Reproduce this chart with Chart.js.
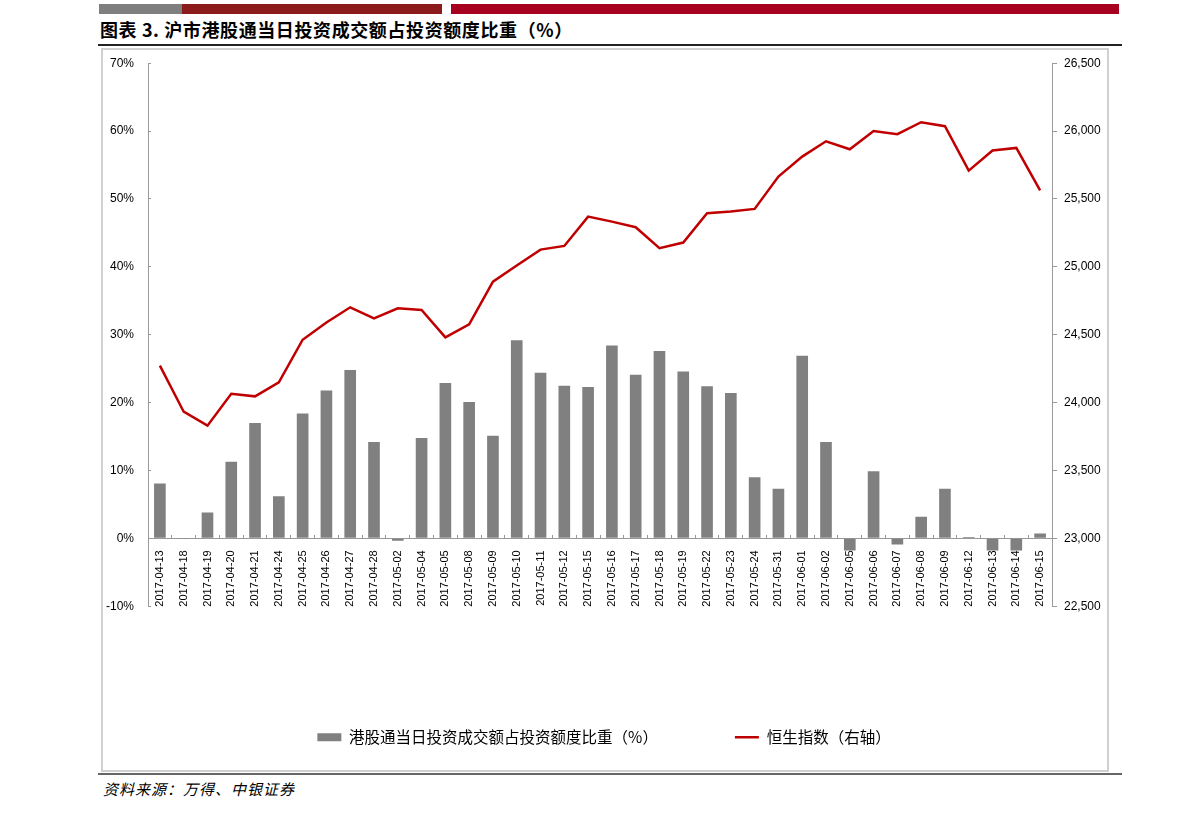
<!DOCTYPE html>
<html>
<head>
<meta charset="utf-8">
<script src="https://cdn.jsdelivr.net/npm/chart.js@4.4.1/dist/chart.umd.min.js"></script>
<style>
  body { margin: 0; background: #fff; width: 1191px; height: 817px; position: relative; overflow: hidden; font-family: "Liberation Sans", Arial, sans-serif; }
  .bar { position: absolute; top: 4px; height: 10px; }
  .title { position: absolute; left: 100px; top: 18px; font: bold 18px "Noto Sans CJK SC", sans-serif; letter-spacing: 0.6px; color: #000; line-height: 22px; white-space: nowrap; }
  .rule { position: absolute; left: 98px; width: 1024px; }
  .frame { position: absolute; left: 101px; top: 48px; width: 1004px; height: 720px; border: 2px solid #d0d0d0; }
  .wrap { position: absolute; left: 102px; top: 39px; width: 1004px; height: 730px; }
  .source { position: absolute; left: 103px; top: 779px; font: italic 15px "Noto Sans CJK SC", sans-serif; letter-spacing: 1px; color: #000; line-height: 20px; }
</style>
</head>
<body>
<div class="bar" style="left:99px;width:83px;background:#7f7f7f"></div>
<div class="bar" style="left:182px;width:260px;background:#8c1c1c"></div>
<div class="bar" style="left:451px;width:668px;background:#a8001f"></div>
<div class="title">图表 3. 沪市港股通当日投资成交额占投资额度比重（%）</div>
<div class="rule" style="top:44px;height:2px;background:#222"></div>
<div class="frame"></div>
<div class="wrap"><canvas id="hkChart"></canvas></div>
<div class="rule" style="top:773px;height:2px;background:#666"></div>
<div class="source">资料来源：万得、中银证券</div>

<script>
const dates = [
  '2017-04-13', '2017-04-18', '2017-04-19', '2017-04-20', '2017-04-21', '2017-04-24',
  '2017-04-25', '2017-04-26', '2017-04-27', '2017-04-28', '2017-05-02', '2017-05-04',
  '2017-05-05', '2017-05-08', '2017-05-09', '2017-05-10', '2017-05-11', '2017-05-12',
  '2017-05-15', '2017-05-16', '2017-05-17', '2017-05-18', '2017-05-19', '2017-05-22',
  '2017-05-23', '2017-05-24', '2017-05-31', '2017-06-01', '2017-06-02', '2017-06-05',
  '2017-06-06', '2017-06-07', '2017-06-08', '2017-06-09', '2017-06-12', '2017-06-13',
  '2017-06-14', '2017-06-15'
];

// 港股通当日投资成交额占投资额度比重 (%)
const shareValues = [
  8.1, -0.1, 3.8, 11.3, 17.0, 6.2, 18.4, 21.8, 24.8, 14.2, -0.35, 14.8,
  22.9, 20.1, 15.1, 29.2, 24.4, 22.5, 22.3, 28.4, 24.1, 27.6, 24.6, 22.4,
  21.4, 9.0, 7.3, 26.9, 14.2, -1.8, 9.9, -0.9, 3.2, 7.3, 0.2, -1.8,
  -1.8, 0.7
];

// 恒生指数 (右轴)
const hsiValues = [
  24272, 23933, 23830, 24065, 24046, 24149, 24463, 24590, 24702, 24621, 24695, 24683,
  24481, 24577, 24891, 25010, 25127, 25154, 25370, 25333, 25292, 25137, 25179, 25395,
  25407, 25427, 25665, 25812, 25925, 25866, 26001, 25977, 26065, 26036, 25709, 25857,
  25876, 25564
];

const shareLabel = '港股通当日投资成交额占投资额度比重（%）';
const hsiLabel = '恒生指数（右轴）';

const tickFont = { family: '"Liberation Sans", Arial, sans-serif', size: 12 };

new Chart(document.getElementById('hkChart'), {
  type: 'bar',
  data: {
    labels: dates,
    datasets: [
      {
        type: 'bar',
        label: shareLabel,
        data: shareValues,
        yAxisID: 'y',
        backgroundColor: '#808080',
        categoryPercentage: 1,
        barPercentage: 0.49
      },
      {
        type: 'line',
        label: hsiLabel,
        data: hsiValues,
        yAxisID: 'y1',
        borderColor: '#c00000',
        backgroundColor: '#c00000',
        borderWidth: 2.5,
        pointRadius: 0,
        tension: 0
      }
    ]
  },
  options: {
    responsive: true,
    maintainAspectRatio: false,
    animation: false,
    layout: { padding: { top: 0, bottom: 14, left: 0, right: 0 } },
    scales: {
      x: {
        position: { y: 0 },
        offset: true,
        grid: { display: true, drawOnChartArea: false, drawTicks: true, tickLength: -4, color: '#999', offset: true },
        border: { display: true, color: '#999', width: 1 },
        ticks: { autoSkip: false, minRotation: 90, maxRotation: 90, padding: 16, color: '#000',
                 font: { family: '"Liberation Sans", Arial, sans-serif', size: 11 } }
      },
      y: {
        position: 'left',
        min: -10,
        max: 70,
        afterFit: s => { s.width = 46; },
        grid: { drawOnChartArea: false, drawTicks: true, tickLength: -3, color: '#999' },
        border: { display: true, color: '#999', width: 1 },
        ticks: { stepSize: 10, padding: 17, color: '#000', font: tickFont, callback: v => v + '%' }
      },
      y1: {
        position: 'right',
        min: 22500,
        max: 26500,
        afterFit: s => { s.width = 54; },
        grid: { drawOnChartArea: false, drawTicks: true, tickLength: 5, color: '#999' },
        border: { display: true, color: '#999', width: 1 },
        ticks: { stepSize: 500, padding: 7, color: '#000', font: tickFont, callback: v => v.toLocaleString('en-US') }
      }
    },
    plugins: {
      tooltip: { enabled: false },
      legend: {
        position: 'bottom',
        title: { display: true, text: '', font: { size: 10 }, padding: { top: 34.25, bottom: 0 } },
        labels: {
          usePointStyle: true,
          pointStyleWidth: 24,
          boxHeight: 8,
          padding: 77,
          color: '#000',
          font: { family: '"Noto Sans CJK SC", sans-serif', size: 15.5 },
          generateLabels: chart => {
            const items = Chart.defaults.plugins.legend.labels.generateLabels(chart);
            items.forEach((it, i) => {
              it.pointStyle = i === 0 ? 'rect' : 'line';
              it.lineWidth = i === 0 ? 0 : 2.5;
            });
            return items;
          }
        }
      }
    }
  }
});
</script>
</body>
</html>
